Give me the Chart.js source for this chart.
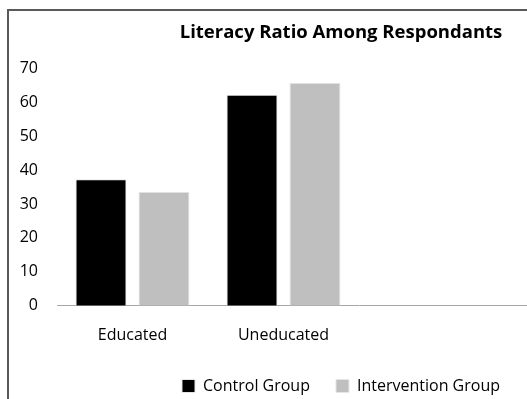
<!DOCTYPE html>
<html>
<head>
<meta charset="utf-8">
<script src="https://cdn.jsdelivr.net/npm/chart.js@4.4.0/dist/chart.umd.min.js"></script>
<style>
  html, body { margin: 0; padding: 0; background: #fff; overflow: hidden; width: 527px; height: 399px; }
  #frame { position: absolute; left: 7px; top: 9px; width: 668px; height: 420px; border: 2px solid #595959; background: #fff; }
  #frame canvas { display: block; }
</style>
</head>
<body>
<div id="frame"><canvas id="chart" width="668" height="420"></canvas></div>
<script>
// chart data
const categories = ['Educated', 'Uneducated', '', ''];
const controlGroup = [37.3, 62.2];
const interventionGroup = [33.6, 65.7];
const seriesNames = ['Control Group', 'Intervention Group'];
const yTicks = [0, 10, 20, 30, 40, 50, 60, 70];

const fontFamily = '"Open Sans", sans-serif';

const ctx = document.getElementById('chart').getContext('2d');
const chart = new Chart(ctx, {
  type: 'bar',
  data: {
    labels: categories,
    datasets: [{
      label: seriesNames[0],
      data: controlGroup,
      backgroundColor: '#000000',
      borderColor: '#e6e6e6',
      borderWidth: 1,
      categoryPercentage: 0.834,
      barPercentage: 0.81
    }, {
      label: seriesNames[1],
      data: interventionGroup,
      backgroundColor: '#bfbfbf',
      borderColor: '#e6e6e6',
      borderWidth: 1,
      categoryPercentage: 0.834,
      barPercentage: 0.81
    }]
  },
  options: {
    responsive: false,
    animation: false,
    layout: { padding: { left: 0, right: 4, top: 8, bottom: 27 } },
    plugins: {
      title: {
        display: true,
        text: 'Literacy Ratio Among Respondants',
        color: '#000',
        font: { family: fontFamily, size: 18.5, weight: 'bold' },
        padding: { top: 3, bottom: 24 }
      },
      legend: {
        position: 'bottom',
        labels: {
          color: '#000',
          font: { family: fontFamily, size: 16 },
          boxWidth: 13,
          boxHeight: 13,
          padding: 26
        }
      },
      tooltip: { enabled: false }
    },
    scales: {
      x: {
        grid: { display: false },
        border: { display: true, color: '#a6a6a6', width: 1 },
        ticks: { color: '#000', font: { family: fontFamily, size: 16 }, padding: 12 },
        afterFit: function(axis) { axis.height -= 5; }
      },
      y: {
        min: 0,
        max: 70,
        grid: { display: false },
        border: { display: false },
        afterBuildTicks: function(axis) {
          axis.ticks = yTicks.map(v => ({ value: v }));
        },
        afterFit: function(axis) { axis.width = 48; },
        ticks: { color: '#000', font: { family: fontFamily, size: 16 }, padding: 11 }
      },
      // empty spacer on the right so the plot stops short of the centred title/legend
      yRight: {
        position: 'right',
        grid: { display: false },
        border: { display: false },
        ticks: { display: false },
        afterFit: function(axis) { axis.width = 12; }
      }
    }
  }
});
</script>
</body>
</html>
